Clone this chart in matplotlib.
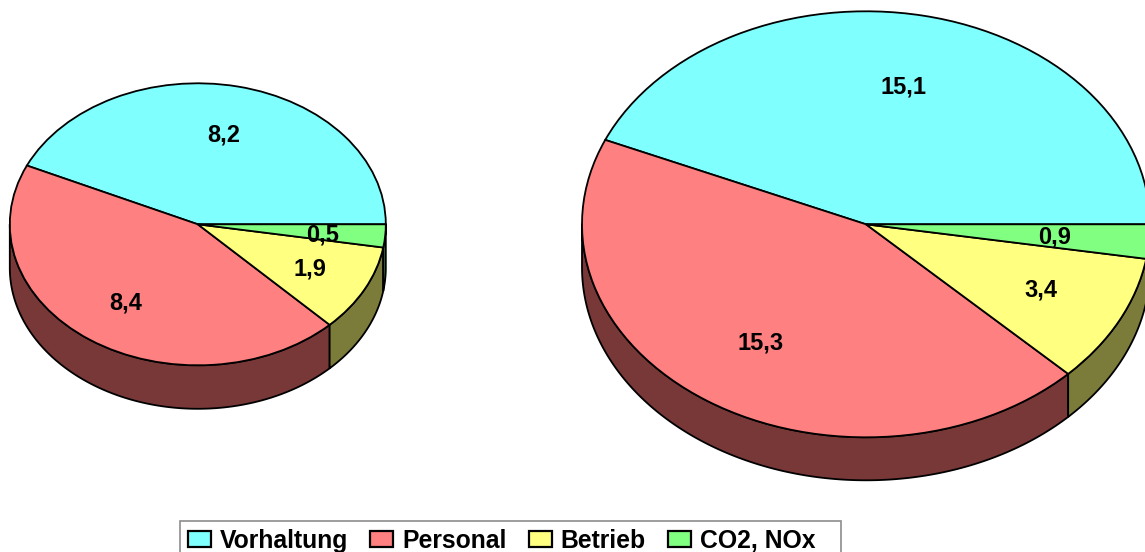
import numpy as np
import matplotlib
matplotlib.use("Agg")
import matplotlib.pyplot as plt
from matplotlib.patches import Polygon, Patch, Rectangle

categories = ["Vorhaltung", "Personal", "Betrieb", "CO2, NOx"]
values_small = [8.2, 8.4, 1.9, 0.5]
values_large = [15.1, 15.3, 3.4, 0.9]
labels_small = ["8,2", "8,4", "1,9", "0,5"]
labels_large = ["15,1", "15,3", "3,4", "0,9"]
label_pos_small = [(224, 135), (126, 303), (310, 269), (323, 235)]
label_pos_large = [(904, 87), (761, 343), (1041, 290), (1055, 237)]
top_colors = ["#80FFFF", "#FF8080", "#FFFF80", "#80FF80"]
side_colors = ["#387878", "#783838", "#7C7C3A", "#3A783A"]

W, H = 1145, 552
plt.rcParams["font.family"] = ["Liberation Sans", "DejaVu Sans"]
plt.rcParams["font.weight"] = "bold"
fig = plt.figure(figsize=(W / 100, H / 100), dpi=100)
LW = 1.3


def draw_pie(values, cx, cy, rx, ry, depth):
    ax = fig.add_axes([(cx - rx) / W, 1 - (cy + ry + depth) / H,
                       2 * rx / W, (2 * ry + depth) / H])
    d = depth / ry
    edges = np.concatenate([[0], np.cumsum(values)]) / np.sum(values) * 360
    for i, col in enumerate(side_colors):
        a0, a1 = max(edges[i], 180), max(edges[i + 1], 180)
        if a1 <= a0:
            continue
        t = np.radians(np.linspace(a0, a1, 200))
        xs = np.cos(t)
        ys = np.sin(t)
        pts = np.vstack([np.column_stack([xs, ys]),
                         np.column_stack([xs[::-1], ys[::-1] - d])])
        ax.add_patch(Polygon(pts, closed=True, facecolor=col, edgecolor="black",
                             linewidth=LW, joinstyle="round", zorder=1, clip_on=False))
    wedges, _ = ax.pie(values, colors=top_colors, startangle=0, radius=1,
                       wedgeprops=dict(edgecolor="black", linewidth=LW, zorder=2))
    for w in wedges:
        w.set_clip_on(False)
    ax.set_aspect("auto")
    ax.set_xlim(-1, 1)
    ax.set_ylim(-1 - d, 1)
    ax.axis("off")


draw_pie(values_small, 197.8, 224.3, 188, 141, 43.5)
draw_pie(values_large, 866, 224.3, 284, 213, 43)

ov = fig.add_axes([0, 0, 1, 1], facecolor="none")
ov.set_xlim(0, W)
ov.set_ylim(H, 0)
ov.axis("off")
for txt, (x, y) in zip(labels_small + labels_large, label_pos_small + label_pos_large):
    ov.text(x, y, txt, ha="center", va="center", fontsize=17, fontweight="bold", color="black")

ov.add_patch(Rectangle((180, 520.5), 661, 40, facecolor="white", edgecolor="#8c8c8c",
                       linewidth=1.2, zorder=1))
handles = [Patch(facecolor=c, edgecolor="black", linewidth=1.6, label=n)
           for c, n in zip(top_colors, categories)]
leg = ov.legend(handles=handles, ncol=4, loc="upper left",
                bbox_to_anchor=(180 / W, 1 - 521 / H), bbox_transform=fig.transFigure,
                borderaxespad=0, frameon=False,
                prop=dict(family="Liberation Sans", weight="bold", size=17.8),
                handlelength=0.93, handleheight=0.6, handletextpad=0.36,
                columnspacing=0.9, borderpad=0.32)
leg.set_zorder(2)

fig.savefig("out.png", dpi=100)
